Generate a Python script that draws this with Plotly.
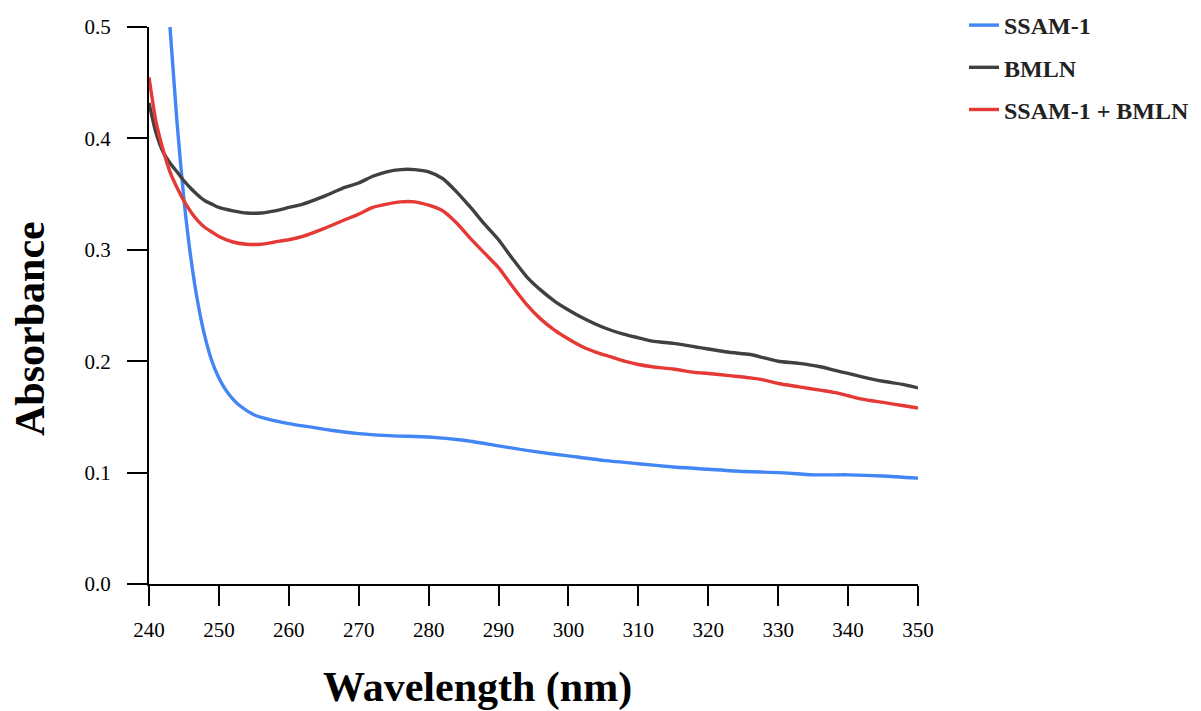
import plotly.graph_objects as go

# SSAM-1 (blue)
wl_ssam = [243, 244, 245, 246, 247, 248, 249, 250, 251, 252, 253, 255, 257, 260, 263, 266,
           270, 275, 280, 285, 290, 295, 300, 305, 310, 315, 320, 325, 330, 335, 340, 345, 350]
abs_ssam = [0.50, 0.415, 0.345, 0.292, 0.252, 0.222, 0.200, 0.185, 0.174, 0.166, 0.160, 0.152,
            0.148, 0.144, 0.141, 0.138, 0.135, 0.133, 0.132, 0.129, 0.124, 0.119, 0.115,
            0.111, 0.108, 0.105, 0.103, 0.101, 0.100, 0.098, 0.098, 0.097, 0.095]

# BMLN (dark grey)
wl_bmln = [240, 241, 242, 243, 244, 245, 246, 247, 248, 249, 250, 252, 254, 256, 258, 260,
           262, 265, 268, 270, 272, 274, 276, 278, 280, 282, 284, 286, 288, 290, 292, 294,
           296, 298, 300, 302, 304, 306, 308, 310, 312, 315, 318, 320, 323, 326, 328, 330,
           333, 336, 338, 340, 342, 345, 348, 350]
abs_bmln = [0.432, 0.405, 0.388, 0.378, 0.370, 0.362, 0.355, 0.349, 0.344, 0.341, 0.338,
            0.335, 0.333, 0.333, 0.335, 0.338, 0.341, 0.348, 0.356, 0.360, 0.366, 0.370,
            0.372, 0.372, 0.370, 0.364, 0.352, 0.338, 0.323, 0.309, 0.292, 0.276, 0.264,
            0.254, 0.246, 0.239, 0.233, 0.228, 0.224, 0.221, 0.218, 0.216, 0.213, 0.211,
            0.208, 0.206, 0.203, 0.200, 0.198, 0.195, 0.192, 0.189, 0.186, 0.182, 0.179, 0.176]

# SSAM-1 + BMLN (red)
wl_mix = [240, 241, 242, 243, 244, 245, 246, 247, 248, 249, 250, 252, 254, 256, 258, 260,
          262, 265, 268, 270, 272, 274, 276, 278, 280, 282, 284, 286, 288, 290, 292, 294,
          296, 298, 300, 302, 304, 306, 308, 310, 312, 315, 318, 320, 323, 326, 328, 330,
          333, 336, 338, 340, 342, 345, 348, 350]
abs_mix = [0.455, 0.415, 0.390, 0.370, 0.356, 0.344, 0.334, 0.326, 0.320, 0.316, 0.312,
           0.307, 0.305, 0.305, 0.307, 0.309, 0.312, 0.319, 0.327, 0.332, 0.338, 0.341,
           0.343, 0.343, 0.340, 0.335, 0.324, 0.310, 0.297, 0.284, 0.267, 0.251, 0.238,
           0.228, 0.220, 0.213, 0.208, 0.204, 0.200, 0.197, 0.195, 0.193, 0.190, 0.189,
           0.187, 0.185, 0.183, 0.180, 0.177, 0.174, 0.172, 0.169, 0.166, 0.163, 0.160, 0.158]

x_ticks = [240, 250, 260, 270, 280, 290, 300, 310, 320, 330, 340, 350]
y_ticks = [0.0, 0.1, 0.2, 0.3, 0.4, 0.5]

SERIF = "Liberation Serif, DejaVu Serif, serif"

fig = go.Figure()
series = [
    ("SSAM-1", wl_ssam, abs_ssam, "#4285f4"),
    ("BMLN", wl_bmln, abs_bmln, "#404040"),
    ("SSAM-1 + BMLN", wl_mix, abs_mix, "#e53935"),
]
for i, (name, xs, ys, col) in enumerate(series):
    fig.add_trace(go.Scatter(x=xs, y=ys, name=f"<b>{name}</b>", mode="lines",
                             line=dict(color=col, width=3.4, shape="spline", smoothing=0.6),
                             legendgroup=f"g{i}"))

fig.update_layout(
    width=1201, height=711,
    margin=dict(l=149, r=283, t=27, b=127, autoexpand=False),
    plot_bgcolor="white", paper_bgcolor="white",
    showlegend=True,
    legend=dict(x=(964 - 149) / 769, y=(584 - 3) / 557, xanchor="left", yanchor="top",
                font=dict(family=SERIF, size=24, color="#222"),
                tracegroupgap=8, itemwidth=30, bgcolor="rgba(0,0,0,0)"),
    font=dict(family=SERIF, color="black"),
)
fig.update_xaxes(range=[240, 350], tickvals=x_ticks, ticks="outside", ticklen=20, tickwidth=2,
                 tickcolor="black", showline=True, linecolor="black", linewidth=2,
                 showgrid=False, zeroline=False, tickfont=dict(family=SERIF, size=21),
                 ticklabelstandoff=6)
fig.update_yaxes(range=[0, 0.5], tickvals=y_ticks, tickformat=".1f", ticks="outside",
                 ticklen=20, tickwidth=2, tickcolor="black", showline=True, linecolor="black",
                 linewidth=2, showgrid=False, zeroline=False,
                 tickfont=dict(family=SERIF, size=21), ticklabelstandoff=12)

fig.add_annotation(text="<b>Wavelength (nm)</b>", xref="paper", yref="paper",
                   x=(477 - 149) / 769, y=-(687 - 584) / 557, xanchor="center", yanchor="middle",
                   showarrow=False, font=dict(family=SERIF, size=42, color="black"))
fig.add_annotation(text="<b>Absorbance</b>", xref="paper", yref="paper",
                   x=(30 - 149) / 769, y=(584 - 329) / 557, xanchor="center", yanchor="middle",
                   textangle=-90, showarrow=False, font=dict(family=SERIF, size=42, color="black"))

fig.write_html("out.html")
